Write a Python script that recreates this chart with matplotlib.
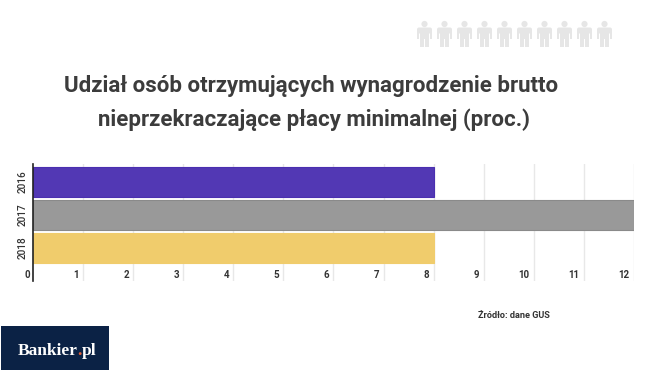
import matplotlib
matplotlib.use('Agg')
import matplotlib.pyplot as plt
from matplotlib.patches import Circle, FancyBboxPatch, Rectangle

years = ['2016', '2017', '2018']
values = [8, 12, 8]
colors = ['#5238b4', '#999999', '#f0cc6c']
edges = ['#4a2fb0', '#8a8a8a', '#f0cc6c']
xticks = [1, 2, 3, 4, 5, 6, 7, 8, 9, 10, 11, 12]
title_lines = ['Udział osób otrzymujących wynagrodzenie brutto',
               'nieprzekraczające płacy minimalnej (proc.)']
source = 'Źródło: dane GUS'

plt.rcParams['font.family'] = ['Roboto', 'DejaVu Sans']
W, H = 645, 370
fig = plt.figure(figsize=(W/100, H/100), dpi=100, facecolor='white')

# overlay in pixel coordinates for the decoration
bg = fig.add_axes([0, 0, 1, 1])
bg.set_xlim(0, W)
bg.set_ylim(H, 0)
bg.axis('off')

# row of grey people, top right
grey = '#e6e6e6'
for i in range(10):
    cx = 424.5 + i*20
    bg.add_patch(Circle((cx, 24), 3.1, color=grey, lw=0))
    bg.add_patch(FancyBboxPatch((cx-7.5, 27.5), 15, 6, boxstyle='round,pad=0,rounding_size=2', color=grey, lw=0))
    bg.add_patch(Rectangle((cx-4.5, 30), 9, 9, color=grey, lw=0))
    bg.add_patch(Rectangle((cx-7.5, 31), 2.3, 7.5, color=grey, lw=0))
    bg.add_patch(Rectangle((cx+5.2, 31), 2.3, 7.5, color=grey, lw=0))
    bg.add_patch(Rectangle((cx-4.5, 38), 4, 9, color=grey, lw=0))
    bg.add_patch(Rectangle((cx+0.5, 38), 4, 9, color=grey, lw=0))

# title
bg.text(311.5, 86, title_lines[0], ha='center', va='center', fontsize=16, fontweight='bold', color='#3c3c3c')
bg.text(314.5, 119.5, title_lines[1], ha='center', va='center', fontsize=16, fontweight='bold', color='#3c3c3c')

# source
bg.text(514, 316, source, ha='center', va='center', fontsize=6.6, fontweight='bold', color='#333333')

# logo, the dot has its own colour so place the pieces one after another
bg.add_patch(Rectangle((1, 326), 108, 45, color='#0b2245', lw=0))
renderer = fig.canvas.get_renderer()
logo_x = 18
for part, col in [('Bankier', 'white'), ('.', '#e0603a'), ('pl', 'white')]:
    t = bg.text(logo_x, 355, part, ha='left', va='baseline', fontsize=12.5, fontweight='bold',
                family=['Liberation Serif'], color=col)
    logo_x += t.get_window_extent(renderer).width - 0.5

# chart
ax = fig.add_axes([33/W, 1-281/H, (634-33)/W, (281-164)/H])
ax.patch.set_alpha(0)
ax.barh(range(len(years)), values, height=30/33, color=colors, edgecolor=edges, linewidth=0.8, zorder=3)
ax.set_xlim(0, 12)
ax.set_ylim(3.0, -0.545)
ax.set_xticks(xticks)
ax.set_xticklabels([])
ax.set_yticks(range(len(years)))
ax.set_yticklabels(years, rotation=90, va='center', fontsize=7.2, fontweight='medium', color='#333333')
ax.tick_params(length=0, pad=4)
ax.grid(axis='x', color='#e8e8e8', lw=1, zorder=1)
for s in ['top', 'right', 'bottom']:
    ax.spines[s].set_visible(False)
ax.spines['left'].set_color('#222222')
ax.spines['left'].set_linewidth(1.2)
ax.spines['left'].set_zorder(5)

# value axis labels sit just left of each gridline, inside the plot
for t in xticks:
    ax.annotate(str(t), (t, 1), xycoords=('data', 'axes fraction'), xytext=(-3, -80),
                textcoords='offset points', ha='right', va='center', fontsize=7, fontweight='bold', color='#333333')
bg.text(27, 275, '0', ha='center', va='center', fontsize=7, fontweight='bold', color='#333333')

fig.savefig('out.png', dpi=100)
